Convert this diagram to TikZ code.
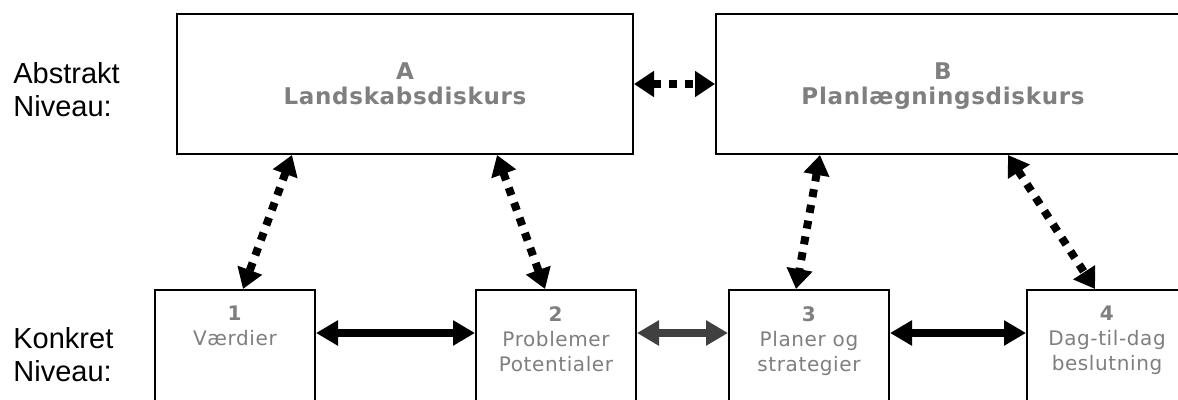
\documentclass[tikz,border=0pt]{standalone}
\usepackage{fontspec}
\setmainfont{DejaVu Sans}
\newfontfamily\lblfont{Liberation Sans}
\newfontfamily\boxfont[LetterSpace=3]{DejaVu Sans}
\usetikzlibrary{arrows.meta}
\definecolor{txtgray}{HTML}{7F7F7F}
\definecolor{arrgray}{HTML}{404040}
\begin{document}
\begin{tikzpicture}[x=0.5pt,y=-0.5pt,
  box/.style={draw=black,line width=1pt,inner sep=0pt,fill=white},
  bigbox/.style={box,minimum height=70pt},
  smallbox/.style={box,minimum width=80pt,minimum height=65pt},
  titletext/.style={anchor=north,inner sep=0pt,text=txtgray,align=center,
    font=\boxfont\bfseries\fontsize{11.5}{12.5}\selectfont},
  boxtext/.style={anchor=north,inner sep=0pt,text=txtgray,align=center,
    font=\boxfont\fontsize{10}{12.5}\selectfont},
  lbl/.style={anchor=north west,inner sep=0pt,align=left,
    font=\lblfont\fontsize{14.5}{16.5}\selectfont},
  dotarrow/.style={line width=4pt,dash pattern=on 4pt off 4pt,
    {Triangle[length=10pt,width=12.5pt]}-{Triangle[length=10pt,width=12.5pt]}},
  solidarrow/.style={line width=4pt,
    {Triangle[length=11pt,width=12pt]}-{Triangle[length=11pt,width=12pt]}}
]
\useasboundingbox (0,0) rectangle (1178,400);
\clip (0,0) rectangle (1178,400);
\fill[white] (0,0) rectangle (1178,400);

% level labels
\node[lbl] (abs) at (13,62) {Abstrakt\\Niveau:};
\node[lbl] (kon) at (13,327) {Konkret\\Niveau:};

% abstract boxes
\node[bigbox,minimum width=228pt] (A) at (405,84) {};
\node[bigbox,minimum width=235pt] (B) at (951,84) {};
\node[titletext] (tA) at (405,62) {A\\Landskabsdiskurs};
\node[titletext] (tB) at (943,62) {B\\Planlægningsdiskurs};

% concrete boxes
\node[smallbox] (n1) at (235,355) {};
\node[smallbox] (n2) at (556,355) {};
\node[smallbox] (n3) at (809,355) {};
\node[smallbox] (n4) at (1107,355) {};

\node[boxtext] (t1) at (235,306) {\textbf{1}\\Værdier};
\node[boxtext] (t2) at (556,306) {\textbf{2}\\Problemer\\Potentialer};
\node[boxtext] (t3) at (809,306) {\textbf{3}\\Planer og\\strategier};
\node[boxtext] (t4) at (1107,306) {\textbf{4}\\Dag-til-dag\\beslutning};

% connectors
\draw[dotarrow] (A.east) -- (B.west);
\draw[dotarrow] ([xshift=-56.5pt]A.south) -- ([xshift=4pt]n1.north);
\draw[dotarrow] ([xshift=46pt]A.south) -- ([xshift=-5.5pt]n2.north);
\draw[dotarrow] ([xshift=-65.5pt]B.south) -- ([xshift=-6.5pt]n3.north);
\draw[dotarrow] ([xshift=28.5pt]B.south) -- ([xshift=-6pt]n4.north);

\draw[solidarrow] ([yshift=11pt]n1.east) -- ([yshift=11pt]n2.west);
\draw[solidarrow,draw=arrgray,fill=arrgray] ([yshift=11pt]n2.east) -- ([yshift=11pt]n3.west);
\draw[solidarrow] ([yshift=11pt]n3.east) -- ([yshift=11pt]n4.west);
\end{tikzpicture}
\end{document}
